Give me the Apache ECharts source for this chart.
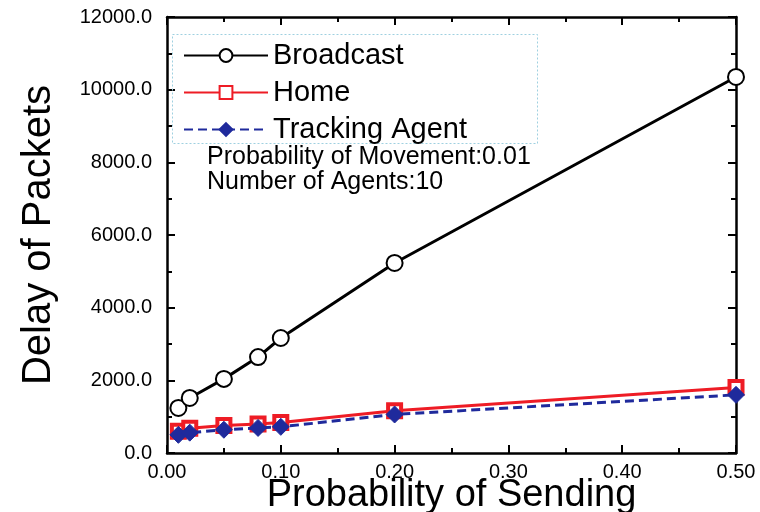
<!DOCTYPE html>
<html><head><meta charset="utf-8">
<script src="https://cdn.jsdelivr.net/npm/echarts@6/dist/echarts.min.js"></script>
<style>html,body{margin:0;padding:0;background:#fff}#c{width:760px;height:512px}</style>
</head><body><div id="c"></div>
<script>
const xValues = [0.01, 0.02, 0.05, 0.08, 0.10, 0.20, 0.50];
const broadcast = [1240, 1515, 2040, 2640, 3165, 5230, 10350];
const home = [600, 680, 760, 800, 840, 1160, 1800];
const tracking = [500, 560, 640, 690, 720, 1060, 1600];
const seriesNames = ['Broadcast', 'Home', 'Tracking Agent'];
const notes = ['Probability of Movement:0.01', 'Number of Agents:10'];
const xTitle = 'Probability of Sending';
const yTitle = 'Delay of Packets';

const F = 'Liberation Sans, Arial, Helvetica, sans-serif';
const chart = echarts.init(document.getElementById('c'));
const pair = a => xValues.map((x, i) => [x, a[i]]);
const axBase = () => ({
  axisLine: {show: true, onZero: false, lineStyle: {color: '#000', width: 2.5}},
  axisTick: {show: true, inside: true, length: 8, lineStyle: {color: '#000', width: 2}},
  minorTick: {show: true, splitNumber: 2, length: 5, lineStyle: {color: '#000', width: 2}},
  splitLine: {show: false}
});
chart.setOption({
  animation: false,
  grid: {left: 167, right: 24, top: 17, bottom: 59, containLabel: false, outerBoundsMode: 'none'},
  legend: {
    left: 178, top: 36, orient: 'vertical', itemGap: 8,
    itemWidth: 84, itemHeight: 16,
    textStyle: {fontFamily: F, fontSize: 29, color: '#000'},
    data: seriesNames
  },
  xAxis: [
    Object.assign(axBase(), {type: 'value', min: 0, max: 0.5, interval: 0.1, position: 'bottom',
      name: xTitle, nameLocation: 'middle', nameGap: 24, nameMoveOverlap: false,
      nameTextStyle: {fontFamily: F, fontSize: 38, color: '#000'},
      axisLabel: {fontFamily: F, fontSize: 20, color: '#000', margin: 9, formatter: v => v.toFixed(2)}}),
    Object.assign(axBase(), {type: 'value', min: 0, max: 0.5, interval: 0.1, position: 'top',
      axisLabel: {show: false}})
  ],
  yAxis: [
    Object.assign(axBase(), {type: 'value', min: 0, max: 12000, interval: 2000, position: 'left',
      name: yTitle, nameLocation: 'middle', nameGap: 108, nameMoveOverlap: false,
      nameTextStyle: {fontFamily: F, fontSize: 40, color: '#000'},
      axisLabel: {fontFamily: F, fontSize: 20, color: '#000', margin: 15, formatter: v => v.toFixed(1)}}),
    Object.assign(axBase(), {type: 'value', min: 0, max: 12000, interval: 2000, position: 'right',
      axisLabel: {show: false}})
  ],
  series: [
    {name: seriesNames[0], type: 'line', data: pair(broadcast), symbol: 'emptyCircle', symbolSize: 16,
      lineStyle: {color: '#000', width: 3}, itemStyle: {color: '#000', borderColor: '#000', borderWidth: 4}, z: 3},
    {name: seriesNames[1], type: 'line', data: pair(home), symbol: 'rect', symbolSize: 13,
      lineStyle: {color: '#ee1c25', width: 3}, itemStyle: {color: '#fff', borderColor: '#ee1c25', borderWidth: 4}, z: 2},
    {name: seriesNames[2], type: 'line', data: pair(tracking), symbol: 'diamond', symbolSize: 17,
      lineStyle: {color: '#1f2a9c', width: 3, type: [9, 5]}, itemStyle: {color: '#1f2a9c', borderColor: '#1f2a9c', borderWidth: 1}, z: 4}
  ],
  graphic: [
    {type: 'rect', left: 172, top: 34, shape: {width: 365, height: 109},
      style: {fill: 'rgba(0,0,0,0)', stroke: '#9fd0e0', lineWidth: 1, lineDash: [2, 2]}, z: 1},
    {type: 'text', left: 207, top: 145, style: {text: notes[0], font: '25px ' + F, fill: '#000'}},
    {type: 'text', left: 207, top: 170, style: {text: notes[1], font: '25px ' + F, fill: '#000'}}
  ]
});
</script></body></html>
